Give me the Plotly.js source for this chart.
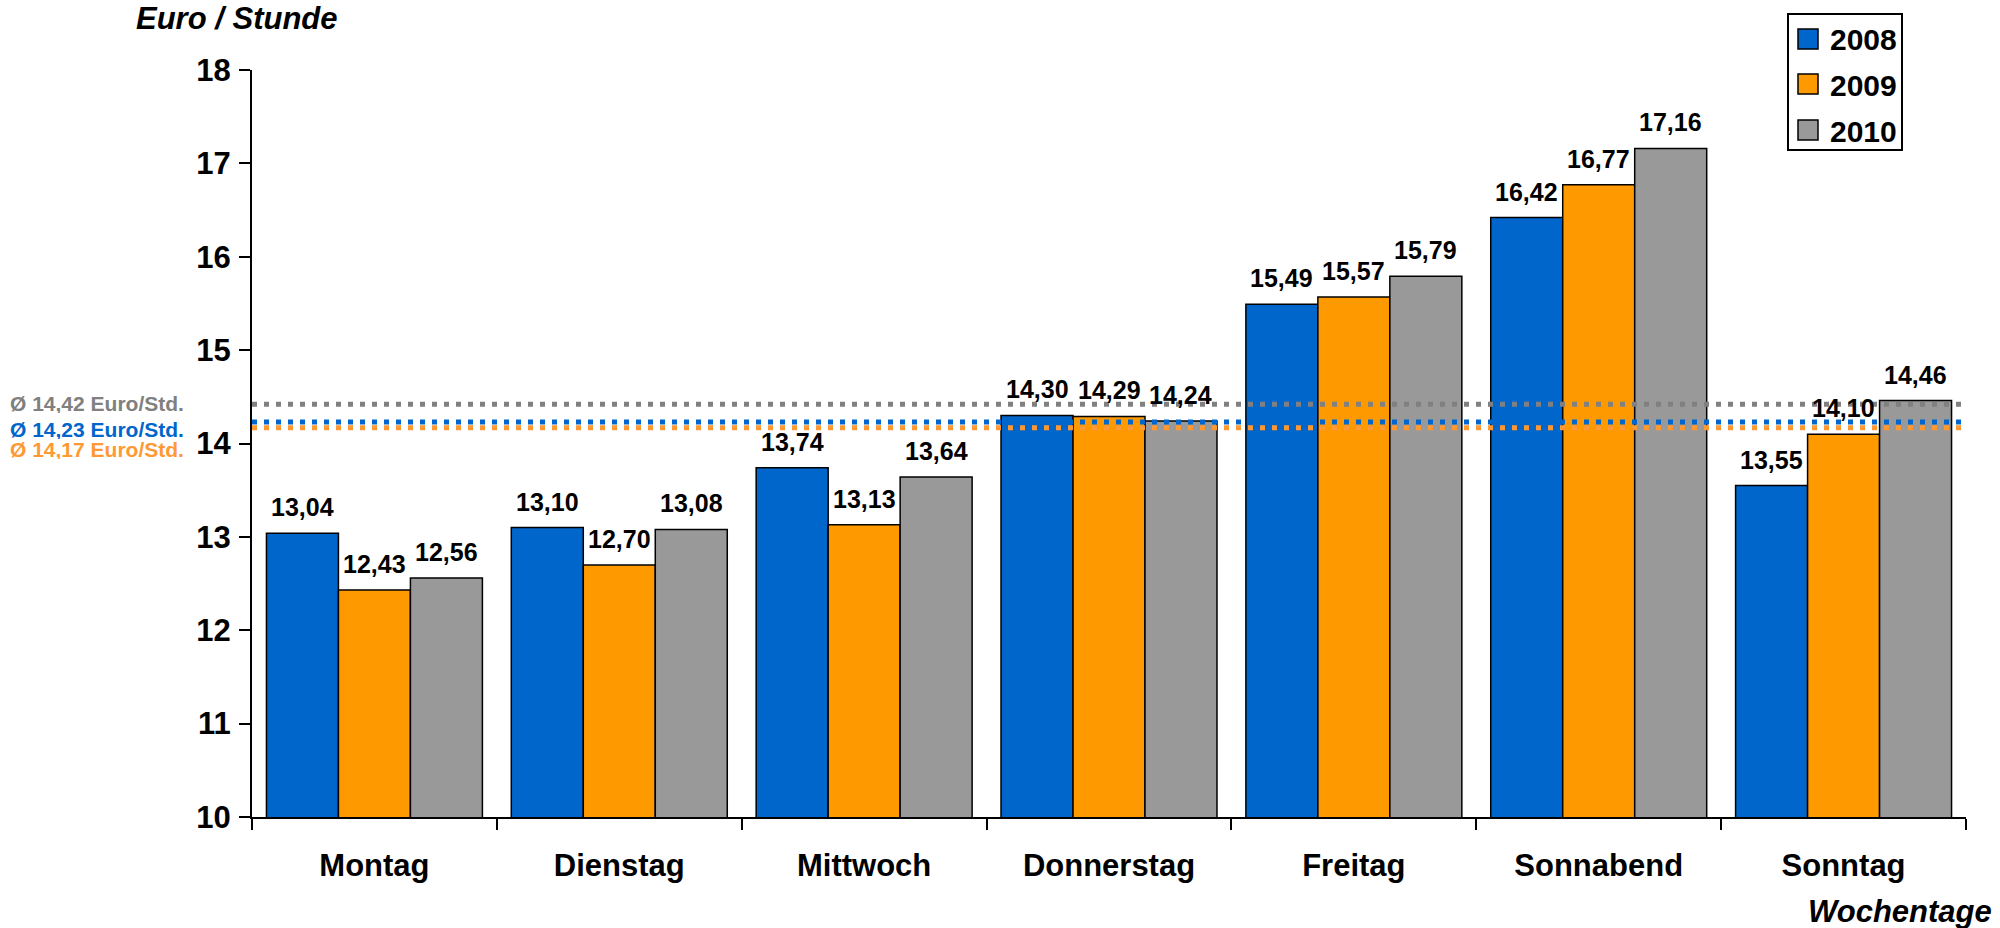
<!DOCTYPE html>
<html>
<head>
<meta charset="utf-8">
<script src="https://cdn.plot.ly/plotly-3.0.1.min.js"></script>
<style>html,body{margin:0;padding:0;background:#fff;}#chart{width:2000px;height:928px;}</style>
</head>
<body>
<div id="chart"></div>
<script>
// ---- Data ----
const categories = ["Montag", "Dienstag", "Mittwoch", "Donnerstag", "Freitag", "Sonnabend", "Sonntag"];
const seriesNames = ["2008", "2009", "2010"];
const values2008 = [13.04, 13.10, 13.74, 14.30, 15.49, 16.42, 13.55];
const values2009 = [12.43, 12.70, 13.13, 14.29, 15.57, 16.77, 14.10];
const values2010 = [12.56, 13.08, 13.64, 14.24, 15.79, 17.16, 14.46];
const avgValues = [14.42, 14.23, 14.17];           // 2010, 2008, 2009 averages
const avgLabels = ["Ø 14,42 Euro/Std.", "Ø 14,23 Euro/Std.", "Ø 14,17 Euro/Std."];
const yTicks = [10, 11, 12, 13, 14, 15, 16, 17, 18];

// ---- Styles ----
const barColors = ["#0066CC", "#FF9900", "#999999"];
const avgColors = ["#808080", "#0066CC", "#FF9933"];
const FONT = "Liberation Sans, Arial, sans-serif";
const allValues = [values2008, values2009, values2010];

const L = 252, R = 34, T = 70, B = 111, W = 2000, H = 928;
const plotW = W - L - R, plotH = H - T - B;
const px2x = p => (p - L) / plotW;
const px2y = p => (H - B - p) / plotH;

const traces = seriesNames.map((name, s) => ({
  type: "bar",
  name: name,
  x: categories,
  y: allValues[s],
  marker: {color: barColors[s], line: {color: "#000", width: 1.5}},
  hoverinfo: "x+y+name",
  showlegend: false
}));

const bargap = 0.118;
const barPx = plotW / categories.length * (1 - bargap) / 3;

const annotations = [];
allValues.forEach((vals, s) => {
  vals.forEach((v, i) => {
    annotations.push({
      x: categories[i], y: v, xref: "x", yref: "y",
      text: v.toFixed(2).replace(".", ","),
      showarrow: false, xanchor: "center", yanchor: "middle",
      xshift: (s - 1) * barPx, yshift: 26,
      font: {family: FONT, size: 25, color: "#000", weight: "bold"}
    });
  });
});

// average labels on the left
const avgShift = [1, -7, -22];
avgValues.forEach((v, k) => {
  annotations.push({
    x: px2x(8), y: v, xref: "paper", yref: "y",
    text: avgLabels[k], showarrow: false, xanchor: "left", yanchor: "middle",
    yshift: avgShift[k], height: 19, valign: "middle",
    font: {family: FONT, size: 21, color: avgColors[k], weight: "bold"}
  });
});

// axis titles
annotations.push({
  x: px2x(134), y: px2y(18), xref: "paper", yref: "paper",
  text: "Euro / Stunde", showarrow: false, xanchor: "left", yanchor: "middle",
  font: {family: FONT, size: 31, color: "#000", weight: "bold", style: "italic"}
});
annotations.push({
  x: px2x(1994), y: px2y(911), xref: "paper", yref: "paper",
  text: "Wochentage", showarrow: false, xanchor: "right", yanchor: "middle",
  font: {family: FONT, size: 31, color: "#000", weight: "bold", style: "italic"}
});

// shapes: average dotted lines
const shapes = avgValues.map((v, k) => ({
  type: "line", xref: "paper", yref: "y",
  x0: 0, x1: px2x(1968), y0: v, y1: v,
  line: {color: avgColors[k], width: 5, dash: "5px,7px"},
  layer: "above"
}));

// custom legend
shapes.push({
  type: "rect", xref: "paper", yref: "paper",
  x0: px2x(1788), x1: px2x(1902), y0: px2y(150), y1: px2y(14),
  line: {color: "#000", width: 2}, fillcolor: "#fff", layer: "above"
});
const legendRows = [39, 84, 130];
seriesNames.forEach((name, s) => {
  const cy = legendRows[s];
  shapes.push({
    type: "rect", xref: "paper", yref: "paper",
    x0: px2x(1798), x1: px2x(1818), y0: px2y(cy + 10), y1: px2y(cy - 10),
    line: {color: "#000", width: 1.5}, fillcolor: barColors[s], layer: "above"
  });
  annotations.push({
    x: px2x(1828), y: px2y(cy + 1), xref: "paper", yref: "paper",
    text: name, showarrow: false, xanchor: "left", yanchor: "middle",
    font: {family: FONT, size: 30, color: "#000", weight: "bold"}
  });
});

const layout = {
  width: W, height: H,
  margin: {l: L, r: R, t: T, b: B, pad: 0},
  paper_bgcolor: "#fff", plot_bgcolor: "#fff",
  barmode: "group", bargap: bargap, bargroupgap: 0,
  showlegend: false,
  font: {family: FONT, color: "#000"},
  xaxis: {
    type: "category",
    showline: true, linecolor: "#000", linewidth: 2,
    ticks: "outside", tickson: "boundaries", ticklen: 11, tickwidth: 2, tickcolor: "#000",
    ticklabelstandoff: 20,
    tickfont: {family: FONT, size: 31, color: "#000", weight: "bold"},
    showgrid: false, zeroline: false, fixedrange: true
  },
  yaxis: {
    range: [10, 18], tickvals: yTicks, ticktext: yTicks.map(String),
    showline: true, linecolor: "#000", linewidth: 2,
    ticks: "outside", ticklen: 11, tickwidth: 2, tickcolor: "#000",
    ticklabelstandoff: 2,
    tickfont: {family: FONT, size: 31, color: "#000", weight: "bold"},
    showgrid: false, zeroline: false, fixedrange: true
  },
  annotations: annotations,
  shapes: shapes
};

Plotly.newPlot("chart", traces, layout, {displayModeBar: false, staticPlot: true});
</script>
</body>
</html>
